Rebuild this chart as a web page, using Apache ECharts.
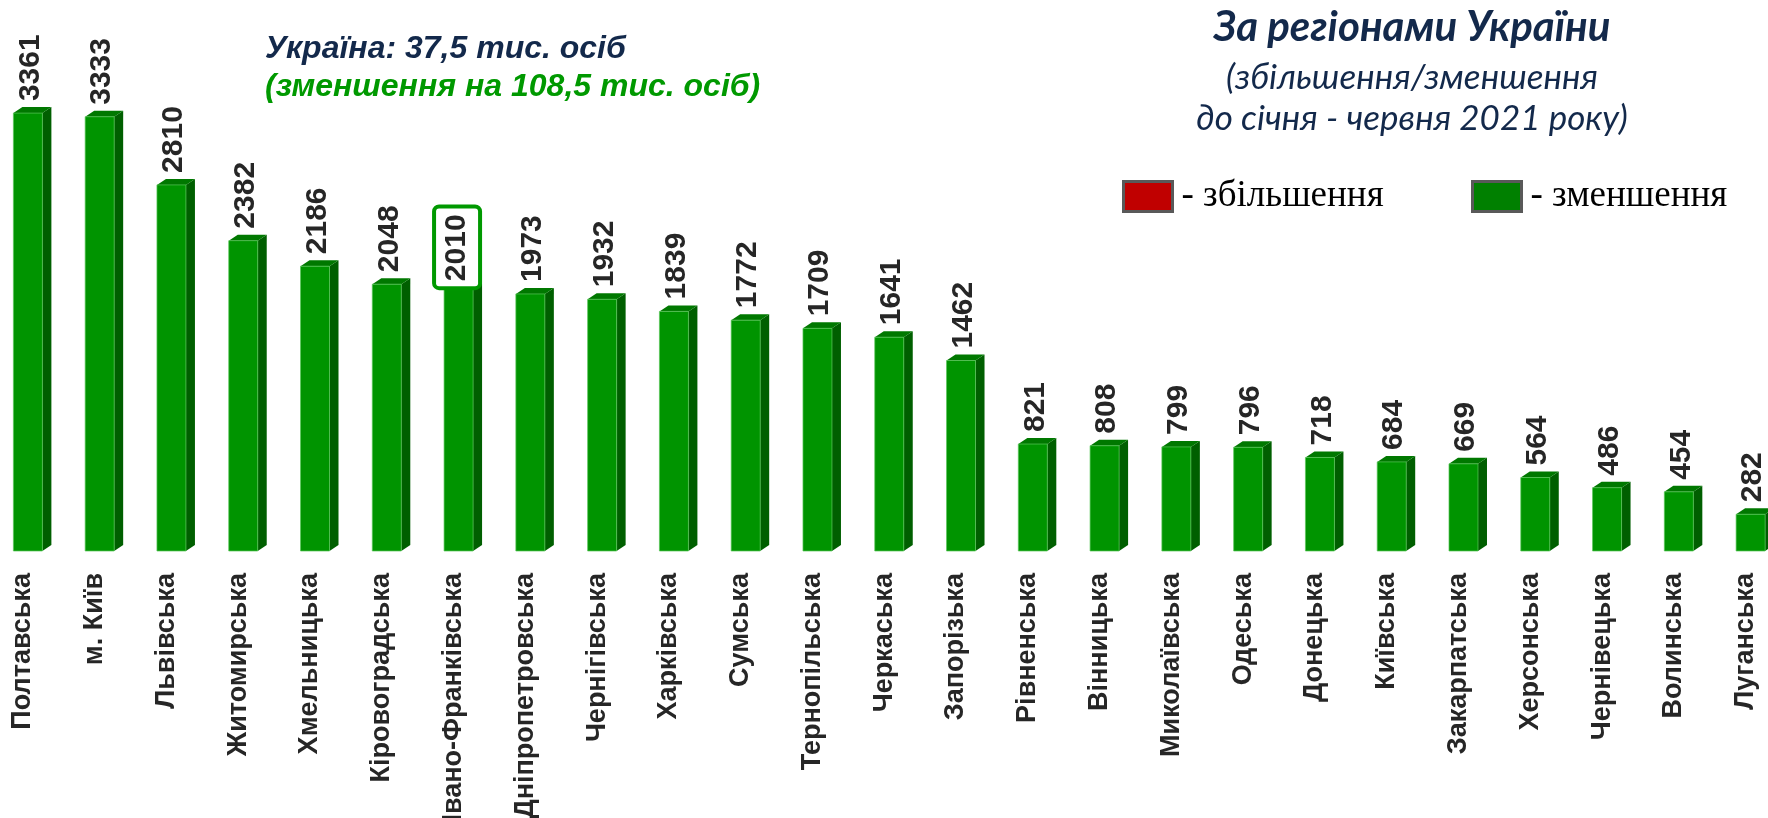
<!DOCTYPE html>
<html>
<head>
<meta charset="utf-8">
<script src="https://cdn.jsdelivr.net/npm/echarts@6/dist/echarts.min.js"></script>
<style>
  html, body { margin: 0; padding: 0; background: #fff; }
  #chart { width: 1768px; height: 818px; }
</style>
</head>
<body>
<div id="chart"></div>
<script>
// data
const regions = ['Полтавська', 'м. Київ', 'Львівська', 'Житомирська', 'Хмельницька', 'Кіровоградська',
  'Івано-Франківська', 'Дніпропетровська', 'Чернігівська', 'Харківська', 'Сумська', 'Тернопільська',
  'Черкаська', 'Запорізька', 'Рівненська', 'Вінницька', 'Миколаївська', 'Одеська', 'Донецька',
  'Київська', 'Закарпатська', 'Херсонська', 'Чернівецька', 'Волинська', 'Луганська'];
const decreaseValues = [3361, 3333, 2810, 2382, 2186, 2048, 2010, 1973, 1932, 1839, 1772, 1709,
  1641, 1462, 821, 808, 799, 796, 718, 684, 669, 564, 486, 454, 282];
const increaseValues = []; // немає регіонів зі збільшенням
const boxedRegion = 'Івано-Франківська';

const seriesNames = ['збільшення', 'зменшення'];
const palette = {
  'збільшення': { front: '#C00000', side: '#800000', top: '#A00000' },
  'зменшення': { front: '#009400', side: '#005F00', top: '#007800' }
};

const chartInstance = echarts.init(document.getElementById('chart'));

// 3d bar: front face + side + top
const makeRender = (colors) => (params, api) => {
  const idx = api.value(0);
  const v = api.value(1);
  const base = api.coord([idx, 0]);
  const top = api.coord([idx, v]);
  const x0 = base[0] - 9.5;
  const x1 = x0 + 29;
  const dx = 9, dy = 6;
  const yb = base[1], yt = top[1];
  const boxed = regions[idx] === boxedRegion;
  const labelStyle = {
    text: String(v),
    fill: '#262626',
    fontSize: 30,
    fontWeight: 'bold',
    fontFamily: '"Liberation Sans", Arial, sans-serif',
    align: 'left',
    verticalAlign: 'middle'
  };
  if (boxed) {
    Object.assign(labelStyle, {
      borderColor: '#009900',
      borderWidth: 4,
      borderRadius: 3,
      padding: [6, 6, 6, 5],
      backgroundColor: '#fff'
    });
  }
  return {
    type: 'group',
    children: [
      {
        type: 'polygon',
        shape: { points: [[x1, yt], [x1 + dx, yt - dy], [x1 + dx, yb - dy], [x1, yb]] },
        style: { fill: colors.side }
      },
      {
        type: 'polygon',
        shape: { points: [[x0, yt], [x0 + dx, yt - dy], [x1 + dx, yt - dy], [x1, yt]] },
        style: { fill: colors.top }
      },
      {
        type: 'rect',
        shape: { x: x0, y: yt, width: x1 - x0, height: yb - yt },
        style: { fill: colors.front, stroke: 'rgba(90,200,90,0.7)', lineWidth: 1 }
      },
      {
        type: 'text',
        x: x0 + (boxed ? 13 : 17),
        y: yt - (boxed ? 3 : 12),
        rotation: Math.PI / 2,
        style: labelStyle
      }
    ]
  };
};

const legendCommon = {
  top: 178,
  padding: 0,
  itemWidth: 49,
  itemHeight: 30,
  selectedMode: false,
  formatter: name => '- ' + name,
  textStyle: {
    fontFamily: '"Liberation Serif", "Times New Roman", serif',
    fontSize: 37,
    color: '#000',
    padding: [0, 0, 0, 4]
  }
};

const option = {
  backgroundColor: '#fff',
  animation: false,
  title: [
    {
      text: 'Україна: 37,5 тис. осіб',
      subtext: '(зменшення на 108,5 тис. осіб)',
      left: 265,
      top: 33,
      padding: 0,
      itemGap: 6,
      textStyle: {
        fontFamily: '"Liberation Sans", Arial, sans-serif',
        fontSize: 32,
        fontWeight: 'bold',
        fontStyle: 'italic',
        color: '#13294B'
      },
      subtextStyle: {
        fontFamily: '"Liberation Sans", Arial, sans-serif',
        fontSize: 32,
        fontWeight: 'bold',
        fontStyle: 'italic',
        color: '#009900'
      }
    },
    {
      text: 'За регіонами України',
      subtext: '(збільшення/зменшення\nдо січня - червня 2021 року)',
      left: 1412,
      top: 6,
      padding: 0,
      textAlign: 'center',
      itemGap: 9,
      textStyle: {
        fontFamily: 'Lato, "Open Sans", sans-serif',
        fontSize: 42,
        fontWeight: 'bold',
        fontStyle: 'italic',
        color: '#13294B'
      },
      subtextStyle: {
        fontFamily: 'Lato, "Open Sans", sans-serif',
        fontSize: 35,
        lineHeight: 41,
        fontStyle: 'italic',
        color: '#13294B'
      }
    }
  ],
  legend: [
    Object.assign({}, legendCommon, {
      left: 1122,
      data: [{ name: 'збільшення', icon: 'rect',
        itemStyle: { color: '#C00000', borderColor: '#595959', borderWidth: 3 } }]
    }),
    Object.assign({}, legendCommon, {
      left: 1471,
      data: [{ name: 'зменшення', icon: 'rect',
        itemStyle: { color: '#008000', borderColor: '#595959', borderWidth: 3 } }]
    })
  ],
  grid: {
    left: -13,
    width: 1794.5,
    top: 95,
    bottom: 267,
    outerBoundsMode: 'none'
  },
  xAxis: {
    type: 'category',
    data: regions,
    axisLine: { show: false },
    axisTick: { show: false },
    axisLabel: {
      interval: 0,
      rotate: 90,
      margin: 22,
      fontSize: 27,
      fontWeight: 'bold',
      fontFamily: '"Liberation Sans", Arial, sans-serif',
      color: '#262626'
    }
  },
  yAxis: {
    type: 'value',
    min: 0,
    max: 3500,
    show: false
  },
  series: [
    {
      name: seriesNames[0],
      type: 'custom',
      renderItem: makeRender(palette[seriesNames[0]]),
      itemStyle: { color: '#C00000' },
      encode: { x: 0, y: 1 },
      data: increaseValues.map((v, i) => [i, v])
    },
    {
      name: seriesNames[1],
      type: 'custom',
      renderItem: makeRender(palette[seriesNames[1]]),
      itemStyle: { color: '#008000' },
      encode: { x: 0, y: 1 },
      data: decreaseValues.map((v, i) => [i, v])
    }
  ]
};

chartInstance.setOption(option);
window.addEventListener('resize', () => chartInstance.resize());
</script>
</body>
</html>
